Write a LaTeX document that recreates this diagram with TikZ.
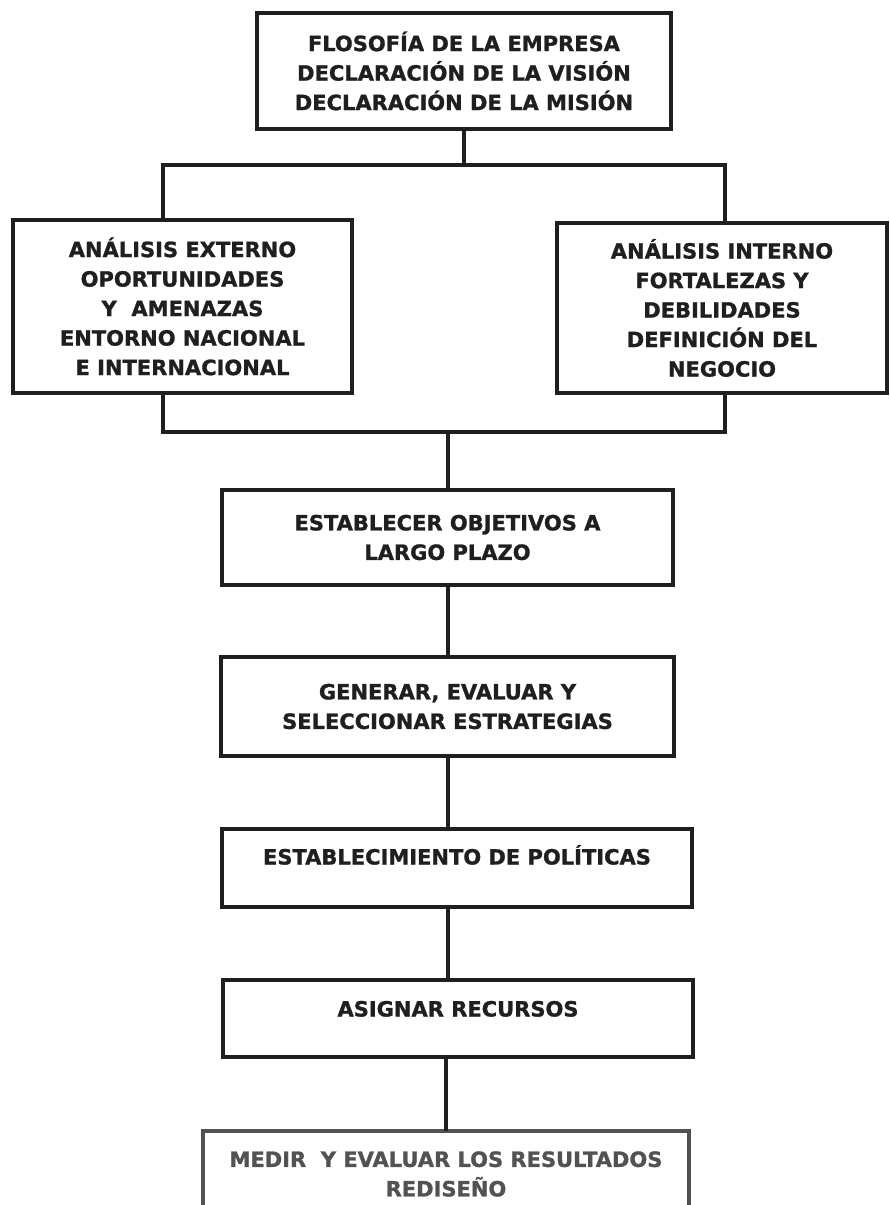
\documentclass[tikz,border=0pt]{standalone}
\usepackage{fontspec}
\setmainfont{DejaVu Sans}[BoldFeatures={FakeBold=1.2}]
\usepackage{tikz}
\usetikzlibrary{calc}
\definecolor{ink}{gray}{0.12}
\definecolor{fadedink}{gray}{0.32}

\begin{document}
\begin{tikzpicture}[
    x=1pt, y=-1pt, node distance=100pt, line width=4pt, color=ink,
    every node/.style={draw=ink, line width=4.5pt, align=center, inner sep=0pt, outer sep=0pt, text=ink, font=\bfseries\fontsize{21}{29.5}\selectfont}
]
\clip (0,0) rectangle (890,1205);

\node (mission) [rectangle, minimum width=414pt, minimum height=116pt] at (464,71) {FLOSOFÍA DE LA EMPRESA\\ DECLARACIÓN DE LA VISIÓN\\ DECLARACIÓN DE LA MISIÓN};
\node (external) [rectangle, minimum width=339pt, minimum height=173pt, below of=mission, xshift=-281.5pt, yshift=-135.5pt] {ANÁLISIS EXTERNO\\ OPORTUNIDADES\\ Y\ \ AMENAZAS\\ ENTORNO NACIONAL\\ E INTERNACIONAL};
\node (internal) [rectangle, minimum width=330pt, minimum height=170pt, right of=external, xshift=439.5pt, yshift=-1.5pt] {ANÁLISIS INTERNO\\ FORTALEZAS Y\\ DEBILIDADES\\ DEFINICIÓN DEL\\ NEGOCIO};

\node (objectives) [rectangle, minimum width=451pt, minimum height=95pt, below of=mission, xshift=-16.5pt, yshift=-366.5pt] {ESTABLECER OBJETIVOS A\\ LARGO PLAZO};
\node (strategies) [rectangle, minimum width=453pt, minimum height=99pt, below of=objectives, yshift=-69pt] {GENERAR, EVALUAR Y\\ SELECCIONAR ESTRATEGIAS};
\node (policies) [rectangle, minimum width=470pt, minimum height=78pt, text height=15pt, text depth=22pt, below of=strategies, xshift=9.5pt, yshift=-61.5pt] {ESTABLECIMIENTO DE POLÍTICAS};
\node (resources) [rectangle, minimum width=470pt, minimum height=77pt, text height=15pt, text depth=19pt, below of=policies, xshift=1pt, yshift=-50.5pt] {ASIGNAR RECURSOS};
% bottom edge falls below the page
\node (results) [rectangle, minimum width=486pt, minimum height=86pt, draw=fadedink, text=fadedink, below of=resources, xshift=-12pt, yshift=-55.5pt] {MEDIR\ \ Y EVALUAR LOS RESULTADOS\\ REDISEÑO};

\coordinate (fork_left) at (163,165);
\coordinate (fork_right) at (725,165);
\coordinate (join_left) at (163,432);
\coordinate (join_right) at (725,432);

\draw (mission.south) -- (mission.south |- fork_left);
\draw (external.north -| fork_left) -- (fork_left) -- (fork_right) -- (internal.north -| fork_right);
\draw (external.south -| join_left) -- (join_left) -- (join_right) -- (internal.south -| join_right);
\draw (objectives.north |- join_left) -- (objectives.north);
\draw (objectives) -- (strategies);
\draw (strategies.south) -- (strategies.south |- policies.north);
\draw (policies.south -| strategies.south) -- (resources.north -| strategies.south);
\draw (resources.south -| results.north) -- (results.north);
\end{tikzpicture}
\end{document}
